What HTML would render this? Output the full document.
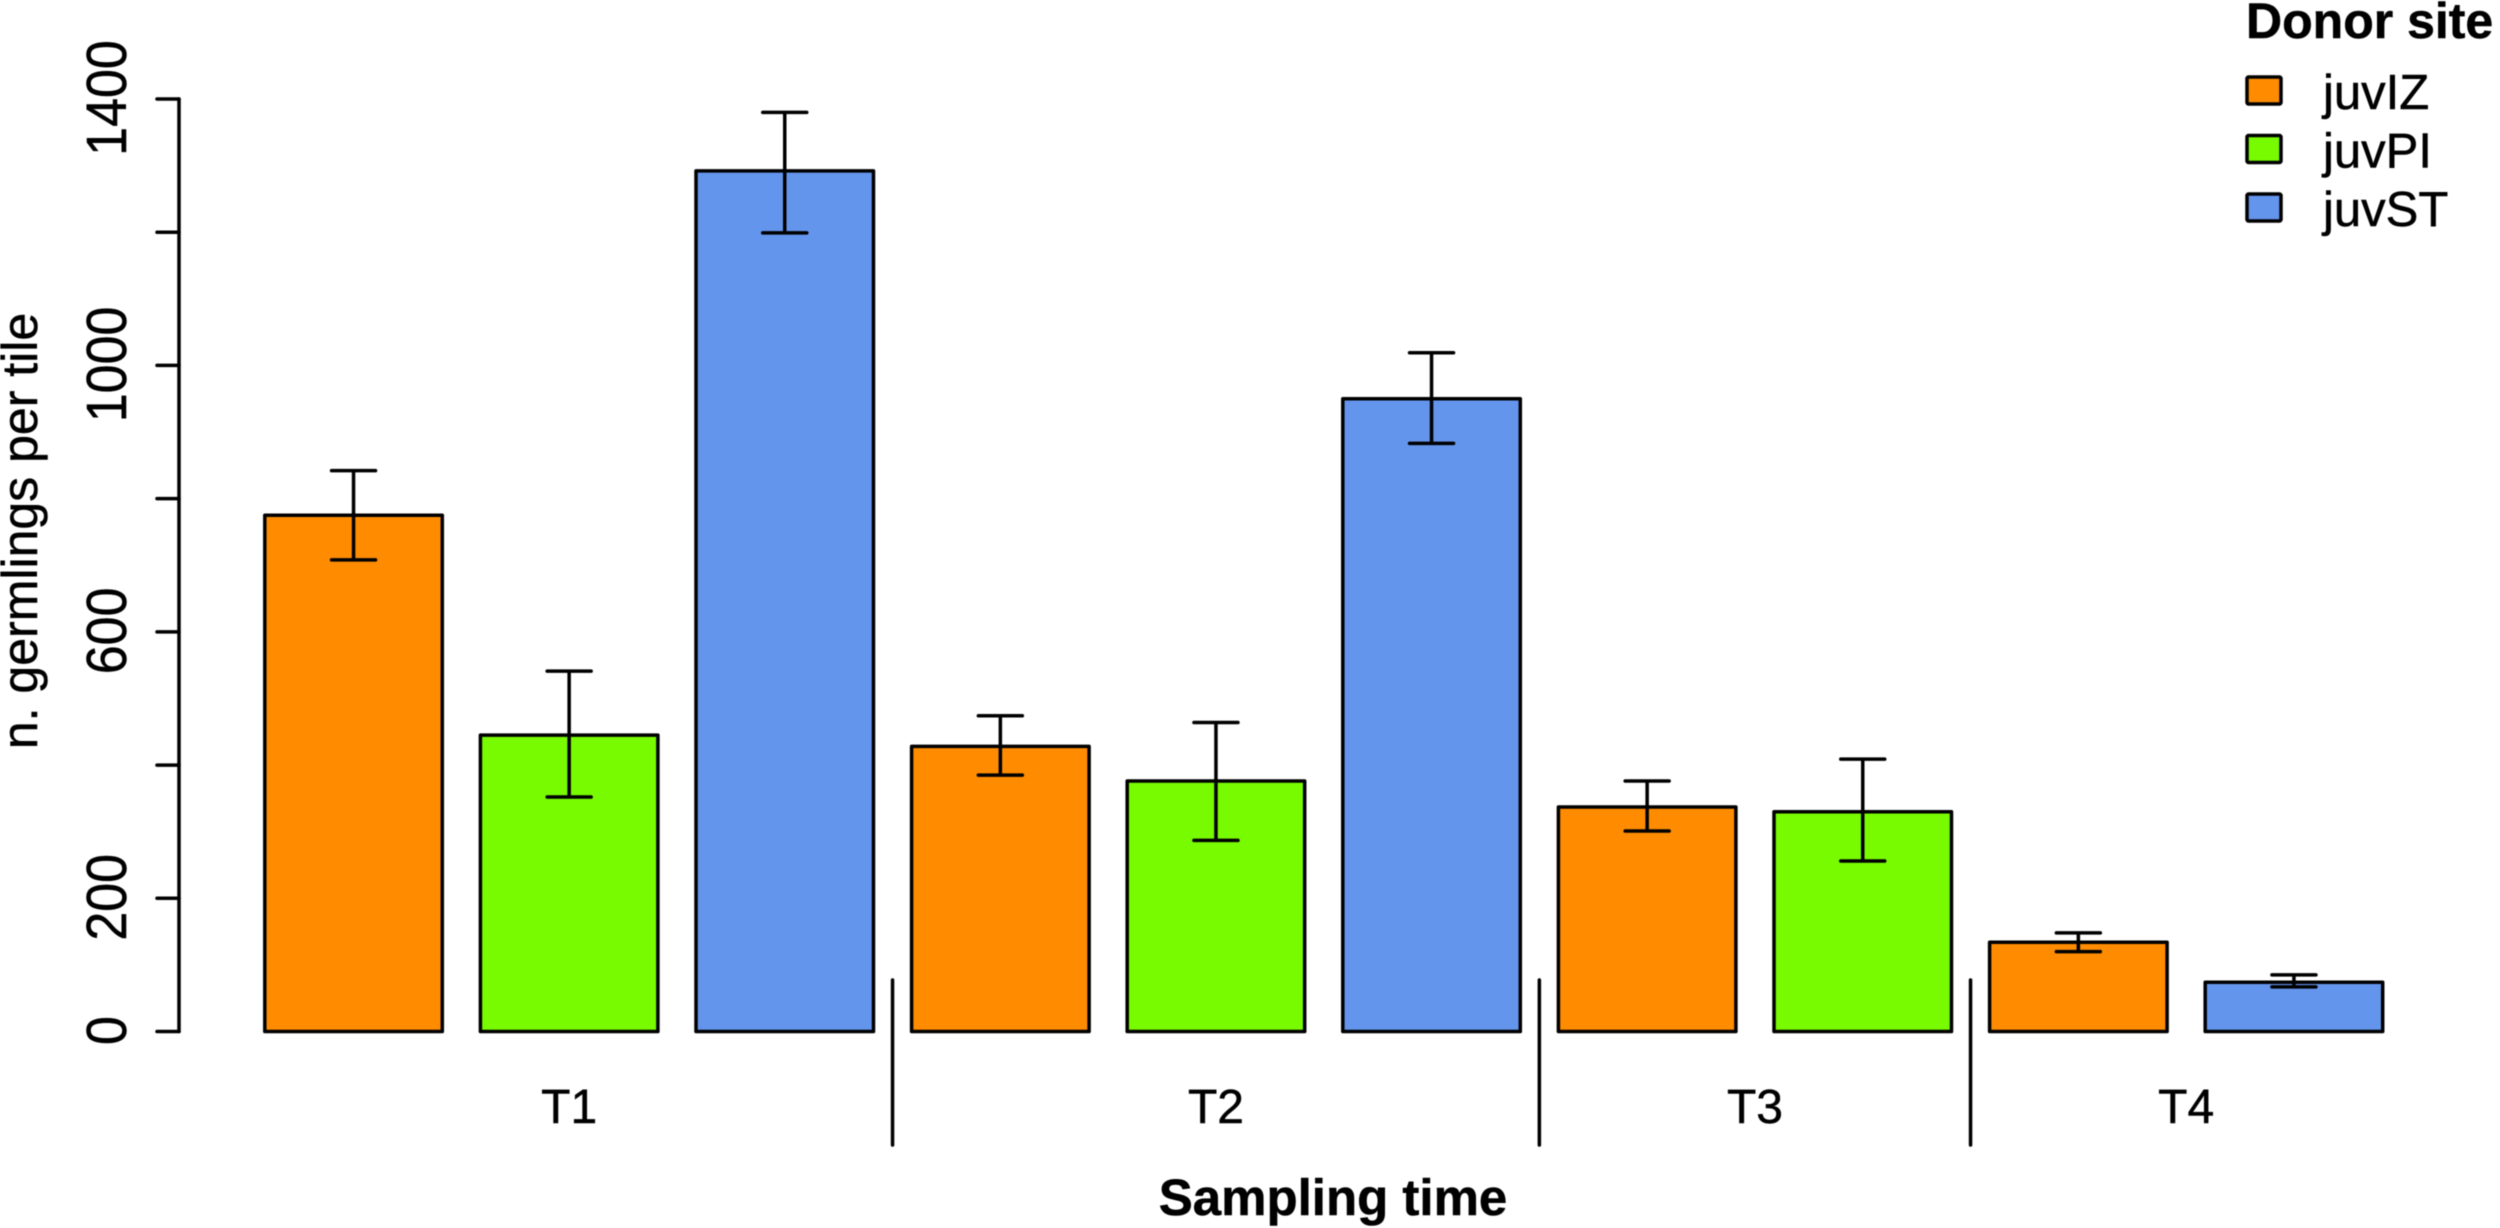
<!DOCTYPE html>
<html lang="en">
<head>
<meta charset="utf-8">
<title>Germlings per tile by sampling time and donor site</title>
<style>
html,body{margin:0;padding:0;background:#fff;}
#chart{display:block;width:2500px;height:1228px;filter:blur(0.5px);}
text{font-family:"Liberation Sans",Arial,sans-serif;fill:#000;stroke:#000;stroke-width:0.5px;}
</style>
</head>
<body>
<svg id="chart" xmlns="http://www.w3.org/2000/svg" width="2500" height="1228" viewBox="0 0 2500 1228">
  <rect x="0" y="0" width="2500" height="1228" fill="#ffffff"></rect>
  <g id="bars"></g>
  <g id="errors"></g>
  <g id="y-axis"></g>
  <g id="groups"></g>
  <text transform="translate(37,531) rotate(-90)" text-anchor="middle" font-size="50">n. germlings per tile</text>
  <text x="1333" y="1215" text-anchor="middle" font-size="51" font-weight="bold">Sampling time</text>
  <g id="legend">
    <text x="2246" y="38" font-size="50" font-weight="bold">Donor site</text>
  </g>
</svg>
<script>
const groupNames = ['T1', 'T2', 'T3', 'T4'];
const siteNames = ['juvIZ', 'juvPI', 'juvST'];
const siteColors = ['#ff8c00', '#78fa00', '#6495ed'];
const barGroups = [0, 0, 0, 1, 1, 1, 2, 2, 3, 3];
const barSites = [0, 1, 2, 0, 1, 2, 0, 1, 0, 2];
const barValues = [775, 445, 1292, 428, 376, 950, 337, 330, 134, 74];
const errorUpper = [842, 541, 1380, 474, 464, 1019, 376, 409, 148, 85];
const errorLower = [708, 352, 1199, 385, 287, 883, 301, 256, 120, 67];
const yTicks = [0, 200, 400, 600, 800, 1000, 1200, 1400];
const yTickLabels = ['0', '200', '', '600', '', '1000', '', '1400'];

const SVGNS = 'http://www.w3.org/2000/svg';
function make(tag, attrs, parent) {
  const node = document.createElementNS(SVGNS, tag);
  for (const k in attrs) node.setAttribute(k, attrs[k]);
  parent.appendChild(node);
  return node;
}
function yScale(v) { return 1031.5 - v * (932.5 / 1400); }
function barLeft(i) { return 264.8 + i * 215.6; }
const barWidth = 177.5;
function barCenter(i) { return barLeft(i) + barWidth / 2; }

const barsG = document.getElementById('bars');
const errorsG = document.getElementById('errors');
barValues.forEach(function (v, i) {
  const rect = make('rect', {
    x: barLeft(i), y: yScale(v), width: barWidth, height: yScale(0) - yScale(v),
    fill: siteColors[barSites[i]], stroke: '#000', 'stroke-width': 3.5, 'stroke-linejoin': 'round'
  }, barsG);
  
  

  const cx = barCenter(i), hi = yScale(errorUpper[i]), lo = yScale(errorLower[i]);
  const err = make('path', {
    d: 'M' + cx + ' ' + hi + 'V' + lo + 'M' + (cx - 22) + ' ' + hi + 'H' + (cx + 22) + 'M' + (cx - 22) + ' ' + lo + 'H' + (cx + 22),
    fill: 'none', stroke: '#000', 'stroke-width': 3.5, 'stroke-linecap': 'round'
  }, errorsG);
  
  
});

const yG = document.getElementById('y-axis');
const axisLine = make('line', {
  x1: 179, x2: 179, y1: yScale(yTicks[0]), y2: yScale(yTicks[yTicks.length - 1]),
  stroke: '#000', 'stroke-width': 3.5, 'stroke-linecap': 'round'
}, yG);


yTicks.forEach(function (t, i) {
  const tick = make('line', {
    x1: 157, x2: 179, y1: yScale(t), y2: yScale(t),
    stroke: '#000', 'stroke-width': 3.5, 'stroke-linecap': 'round'
  }, yG);
  
  
  if (yTickLabels[i]) {
    const label = make('text', {
      transform: 'translate(126,' + (yScale(t) - 1) + ') rotate(-90) scale(1,1.08)',
      'text-anchor': 'middle', 'font-size': 52
    }, yG);
    label.textContent = yTickLabels[i];
    
    
  }
});

const groupsG = document.getElementById('groups');
groupNames.forEach(function (name, g) {
  const members = barGroups.map(function (b, i) { return b === g ? i : -1; }).filter(function (i) { return i >= 0; });
  const first = members[0], last = members[members.length - 1];
  const label = make('text', {
    x: (barLeft(first) + barLeft(last) + barWidth) / 2, y: 1123,
    'text-anchor': 'middle', 'font-size': 48
  }, groupsG);
  label.textContent = name;
  
  
  if (g > 0) {
    const x = (barLeft(first) + barLeft(first - 1) + barWidth) / 2;
    const divider = make('line', {
      x1: x, x2: x, y1: 980, y2: 1145,
      stroke: '#000', 'stroke-width': 3.5, 'stroke-linecap': 'round'
    }, groupsG);
    
    
  }
});

const legendG = document.getElementById('legend');
siteNames.forEach(function (name, i) {
  const top = 77 + i * 58.5;
  const swatch = make('rect', {
    x: 2247, y: top, width: 34, height: 27, rx: 1.5,
    fill: siteColors[i], stroke: '#000', 'stroke-width': 3.5
  }, legendG);
  
  
  const label = make('text', { x: 2323, y: top + 32, 'font-size': 49 }, legendG);
  label.textContent = name;
  
  
});
</script>
</body>
</html>
